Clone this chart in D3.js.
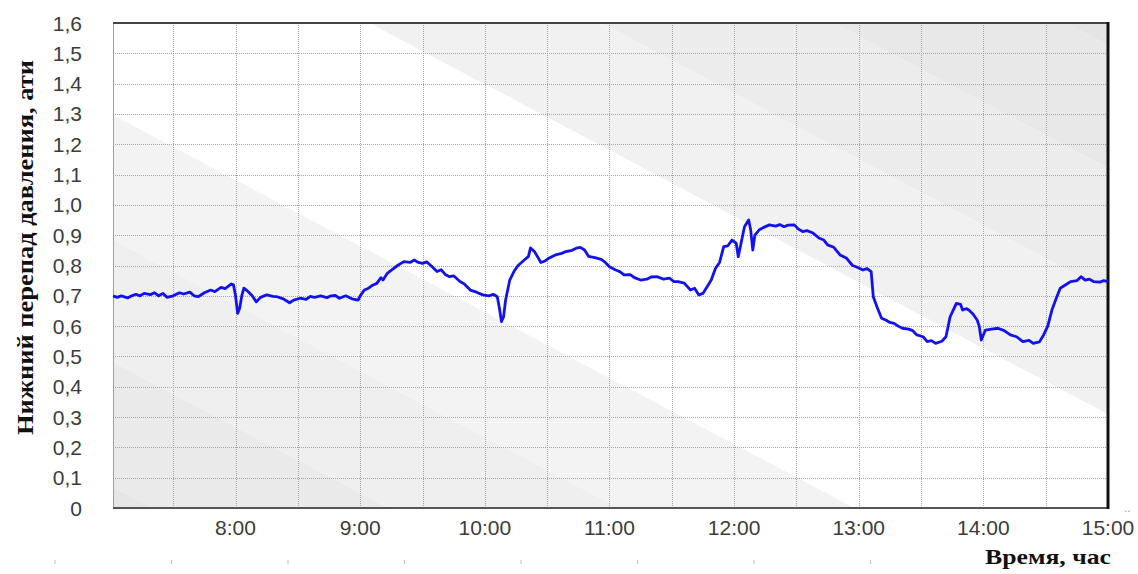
<!DOCTYPE html>
<html><head><meta charset="utf-8">
<script src="https://cdn.jsdelivr.net/npm/d3@7"></script>
<style>html,body{margin:0;padding:0;background:#fff;}svg{display:block;}</style>
</head><body>
<svg id="chart" width="1138" height="574"></svg>
<script>
const times = ["7:01","7:03","7:05","7:08","7:10","7:12","7:14","7:16","7:19","7:21","7:23","7:25","7:27","7:30","7:33","7:35","7:38","7:40","7:42","7:45","7:48","7:50","7:53","7:55","7:58","7:59",
"8:00","8:01","8:02","8:03","8:04","8:05","8:06","8:08","8:10","8:12","8:15","8:18","8:20","8:23","8:26","8:28","8:31","8:34","8:36","8:38","8:41","8:44","8:46","8:48","8:50","8:53","8:56","8:59",
"9:00","9:02","9:04","9:06","9:08","9:10","9:11","9:13","9:16","9:18","9:21","9:24","9:26","9:28","9:30","9:32","9:34","9:37","9:39","9:41","9:43","9:45","9:48","9:50","9:53","9:56","9:59",
"10:02","10:04","10:06","10:07","10:08","10:09","10:10","10:12","10:14","10:16","10:19","10:21","10:22","10:24","10:27","10:29","10:31","10:34","10:37","10:39","10:42","10:44","10:46","10:48","10:50","10:53","10:56","10:58",
"11:00","11:03","11:05","11:07","11:10","11:12","11:15","11:18","11:20","11:23","11:26","11:29","11:31","11:33","11:36","11:39","11:41","11:43","11:45","11:47","11:49","11:51","11:53","11:55","11:57","11:59",
"12:01","12:02","12:04","12:05","12:07","12:08","12:09","12:10","12:12","12:14","12:17","12:20","12:22","12:24","12:26","12:29","12:31","12:33","12:35","12:38","12:41","12:43","12:45","12:48","12:51","12:54","12:57","12:59",
"13:02","13:04","13:06","13:07","13:09","13:11","13:13","13:15","13:17","13:19","13:21","13:24","13:26","13:28","13:31","13:33","13:35","13:37","13:40","13:42","13:44","13:46","13:47","13:49","13:50","13:52","13:53","13:55","13:57","13:58","13:59",
"14:01","14:04","14:07","14:10","14:13","14:16","14:19","14:22","14:24","14:27","14:29","14:31","14:33","14:35","14:37","14:40","14:42","14:45","14:47","14:49","14:51","14:53","14:56","14:58","15:00"];
const values = [0.70,0.695,0.70,0.693,0.70,0.705,0.70,0.708,0.704,0.71,0.70,0.708,0.695,0.70,0.71,0.706,0.712,0.70,0.697,0.71,0.719,0.714,0.728,0.724,0.739,0.736,
0.70,0.642,0.66,0.70,0.725,0.72,0.714,0.70,0.68,0.695,0.703,0.698,0.697,0.69,0.677,0.686,0.692,0.688,0.698,0.695,0.70,0.694,0.70,0.701,0.692,0.70,0.69,0.686,
0.70,0.719,0.725,0.735,0.741,0.76,0.752,0.774,0.79,0.80,0.813,0.81,0.818,0.81,0.807,0.812,0.80,0.78,0.786,0.77,0.763,0.766,0.747,0.74,0.719,0.712,0.703,
0.70,0.705,0.697,0.66,0.615,0.63,0.686,0.752,0.78,0.80,0.818,0.83,0.858,0.845,0.81,0.815,0.825,0.835,0.84,0.846,0.85,0.857,0.86,0.851,0.83,0.826,0.82,0.81,
0.796,0.785,0.78,0.769,0.77,0.76,0.752,0.755,0.762,0.763,0.755,0.758,0.747,0.747,0.742,0.719,0.725,0.703,0.708,0.73,0.752,0.79,0.81,0.862,0.865,0.884,
0.874,0.829,0.895,0.928,0.95,0.917,0.851,0.9,0.917,0.925,0.934,0.93,0.935,0.928,0.933,0.934,0.92,0.912,0.915,0.907,0.89,0.885,0.868,0.86,0.835,0.825,0.80,0.795,
0.785,0.79,0.78,0.697,0.66,0.626,0.62,0.612,0.609,0.60,0.593,0.59,0.585,0.571,0.565,0.549,0.552,0.543,0.55,0.565,0.631,0.66,0.675,0.672,0.653,0.658,0.653,0.64,0.62,0.60,0.554,
0.587,0.59,0.593,0.585,0.571,0.565,0.549,0.553,0.543,0.548,0.571,0.60,0.653,0.69,0.725,0.738,0.747,0.75,0.763,0.752,0.755,0.747,0.745,0.75,0.747];
const xTickLabels = ["8:00","9:00","10:00","11:00","12:00","13:00","14:00","15:00"];
const yTickValues = [0,0.1,0.2,0.3,0.4,0.5,0.6,0.7,0.8,0.9,1.0,1.1,1.2,1.3,1.4,1.5,1.6];
const xTitle = "Время, час";
const yTitle = "Нижний перепад давления, ати";

const parse = d3.timeParse("%H:%M");
const data = times.map((t,i)=>({t:parse(t), v:values[i]}));
const L=113, R=1108, T=23, B=508;
const x = d3.scaleTime().domain([parse("7:01"), parse("15:00")]).range([L,R]);
const y = d3.scaleLinear().domain([0,1.6]).range([B,T]);
const svg = d3.select("#chart");

// background diagonal bands
const defs = svg.append("defs");
defs.append("clipPath").attr("id","plotclip").append("rect").attr("x",L).attr("y",T).attr("width",R-L).attr("height",B-T);
const bg = svg.append("g").attr("clip-path","url(#plotclip)");
bg.append("rect").attr("x",L).attr("y",T).attr("width",R-L).attr("height",B-T).attr("fill","#ffffff");
const slope = 0.53, W = R-L;
const bands = [
  [-2000,-482,"#e4e4e4"],[-482,-359,"#e8e8e8"],[-359,-236,"#ececec"],[-236,-113,"#f1f1f1"],
  [115,240,"#f3f3f3"],[240,362,"#efefef"],[362,487,"#eaeaea"],[487,2000,"#e6e6e6"]
];
bands.forEach(([a,b,c])=>{
  bg.append("polygon").attr("fill",c)
    .attr("points",[[L,a],[R,a+slope*W],[R,b+slope*W],[L,b]].map(p=>p.join(",")).join(" "));
});

// grid
const grid = svg.append("g").attr("stroke","#a4a4a4").attr("stroke-width",1).attr("stroke-dasharray","1,1");
const halfHours = d3.timeMinute.every(30).range(parse("7:30"), parse("15:00"));
grid.selectAll("line.v").data(halfHours).join("line")
  .attr("x1",d=>Math.round(x(d))+0.5).attr("x2",d=>Math.round(x(d))+0.5).attr("y1",T).attr("y2",B);
grid.selectAll("line.h").data(yTickValues.filter(v=>v>0&&v<1.6)).join("line")
  .attr("x1",L).attr("x2",R).attr("y1",d=>Math.round(y(d))+0.5).attr("y2",d=>Math.round(y(d))+0.5);

// border
svg.append("line").attr("x1",L+0.5).attr("x2",L+0.5).attr("y1",T).attr("y2",B).attr("stroke","#a0a0a0").attr("stroke-width",1);
svg.append("line").attr("x1",L).attr("x2",R+1).attr("y1",T).attr("y2",T).attr("stroke","#444").attr("stroke-width",2);
svg.append("line").attr("x1",L).attr("x2",R+1).attr("y1",B).attr("y2",B).attr("stroke","#555").attr("stroke-width",2);
svg.append("line").attr("x1",R).attr("x2",R).attr("y1",T-1).attr("y2",B+1).attr("stroke","#111").attr("stroke-width",3);

// data line
svg.append("path").datum(data)
  .attr("fill","none").attr("stroke","#1212ee").attr("stroke-width",2.8).attr("stroke-linejoin","round")
  .attr("d", d3.line().x(d=>x(d.t)).y(d=>y(d.v)));

// axes labels
const fmt = v => v===0 ? "0" : d3.format(".1f")(v).replace(".",",");
svg.append("g").selectAll("text").data(yTickValues).join("text")
  .attr("x",82).attr("y",d=>y(d)).attr("dy","0.36em").attr("text-anchor","end")
  .attr("font-family","Liberation Sans, Arial, sans-serif").attr("font-size",21).attr("fill","#3c3c3c")
  .text(fmt);
svg.append("g").selectAll("text").data(xTickLabels).join("text")
  .attr("x",d=>x(parse(d))).attr("y",535).attr("text-anchor","middle")
  .attr("font-family","Liberation Sans, Arial, sans-serif").attr("font-size",21).attr("fill","#3c3c3c")
  .text(d=>d);

// titles
svg.append("text").attr("x",985).attr("y",564).attr("textLength",126).attr("lengthAdjust","spacingAndGlyphs")
  .attr("font-family","Liberation Serif, Times New Roman, serif").attr("font-weight","bold").attr("font-size",21).attr("fill","#111")
  .text(xTitle);
svg.append("text").attr("transform","translate(33,435) rotate(-90)").attr("x",0).attr("y",0)
  .attr("textLength",375).attr("lengthAdjust","spacingAndGlyphs")
  .attr("font-family","Liberation Serif, Times New Roman, serif").attr("font-weight","bold").attr("font-size",24).attr("fill","#111")
  .text(yTitle);

// faint decorative marks under the axis
svg.append("g").selectAll("line").data(d3.range(55, 900, 116.5)).join("line")
  .attr("x1",d=>d).attr("x2",d=>d).attr("y1",560).attr("y2",564).attr("stroke","#bbb").attr("stroke-width",1);
svg.append("text").attr("x",1124).attr("y",512).attr("font-size",12).attr("fill","#999").attr("font-family","Liberation Sans, sans-serif").text("..");
</script>
</body></html>
